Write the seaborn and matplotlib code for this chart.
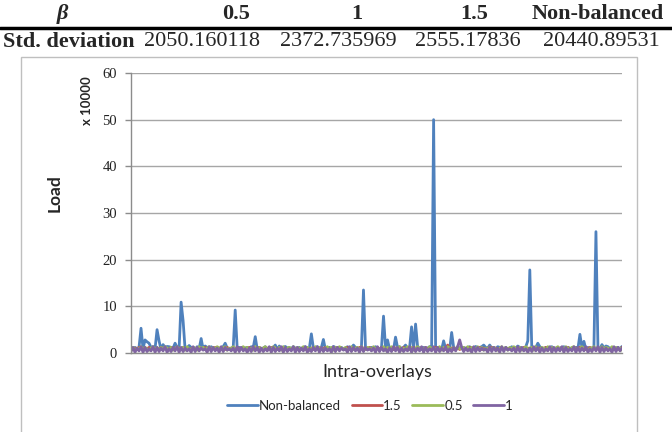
import pandas as pd
import seaborn as sns
import matplotlib.pyplot as plt
from matplotlib.lines import Line2D
from matplotlib.patches import Rectangle

sns.set_theme(style="white")
plt.rcParams['font.family'] = ['Lato', 'DejaVu Sans']

# Table above the chart
betas = ["0.5", "1", "1.5", "Non-balanced"]
std_devs = ["2050.160118", "2372.735969", "2555.17836", "20440.89531"]

# Series, drawn in this order (load in units of 10000)
series_names = ["Non-balanced", "1.5", "0.5", "1"]
colors = ["#4F81BD", "#C0504D", "#9BBB59", "#8064A2"]

# Baseline loads, one digit per point, in steps of 1500
base_nonbal = ("7685896757 8968757869 8758679576 8759685786 9768589675 7896875786 "
               "9875867957 6875968578 6976858967 5789687578 6987586795 7687596857 "
               "8697685896 7578968757 8698758679 5768759685 7869768589 6757896875 "
               "7869875867 9576875968 5786976858 9675789687 5786987586 7957687596 857869")
base_15 = ("6575867568 5767586756 8576758675 6857675867 5685767586 7568576758 "
           "6756857675 8675685767 5867568576 7586756857 6758675685 7675867568 "
           "5767586756 8576758675 6857675867 5685767586 7568576758 6756857675 "
           "8675685767 5867568576 7586756857 6758675685 7675867568 6857586756 576758")
base_05 = ("5847695864 7958486975 8469578496 5874968579 4869758947 6958479685 "
           "7496857948 6975849678 5948769584 7695864795 8486975846 9578496587 "
           "4968579486 9758947695 8479685749 6857948697 5849678594 8769584769 "
           "5864795848 6975846957 8496587496 8579486975 8947695847 7958496875 968574")
base_1 = ("2817391826 3918273916 2839182736 1928374619 2837192846 3719283617 "
          "2938172639 1827391826 3918273916 2839182736 1928374619 2837192846 "
          "3719283617 2938172639 1827391826 3918273916 2839182736 1928374619 "
          "2837192846 3719283617 2938172639 1827391826 3918273916 2839182736 192837")

# Peaks: point index -> load (x 10000)
peaks_nonbal = {5: 5.3, 7: 2.8, 8: 2.4, 9: 2.1, 13: 5.0, 14: 2.6, 16: 1.8, 18: 1.4,
                22: 2.1, 25: 10.9, 26: 6.9, 29: 1.6, 35: 3.1, 37: 1.5, 47: 2.1,
                52: 9.2, 62: 3.5, 72: 1.7, 74: 1.5, 77: 1.4, 90: 4.1, 96: 2.9,
                101: 1.4, 111: 1.7, 116: 13.5, 126: 7.9, 128: 2.8, 132: 3.4,
                137: 1.7, 140: 5.6, 142: 6.2, 143: 1.4, 151: 50.0, 156: 2.6,
                160: 4.4, 172: 1.4, 176: 1.7, 179: 1.7, 193: 1.5, 198: 2.6,
                199: 17.8, 203: 2.1, 224: 4.0, 226: 2.5, 232: 26.0, 235: 1.8,
                237: 1.5, 245: 1.4}
peaks_15 = {158: 1.7}
peaks_05 = {}
peaks_1 = {164: 2.8}


def to_values(digits, peaks):
    vals = [int(c) * 0.15 for c in digits.replace(" ", "")]
    for i, v in peaks.items():
        vals[i] = v
    return vals


all_vals = [to_values(base_nonbal, peaks_nonbal), to_values(base_15, peaks_15),
            to_values(base_05, peaks_05), to_values(base_1, peaks_1)]
n = min(len(v) for v in all_vals)

rows = []
for name, vals in zip(series_names, all_vals):
    for i, v in enumerate(vals[:n]):
        rows.append([name, i, v])
df = pd.DataFrame(rows, columns=["Series", "Point", "Load"])

fig = plt.figure(figsize=(6.72, 4.32), dpi=100)

# chart frame
fig.patches.append(Rectangle((21 / 672, -0.1), 616 / 672, 0.1 + 1 - 57 / 432,
                             transform=fig.transFigure, facecolor="none",
                             edgecolor="#bfbfbf", linewidth=1, zorder=-1))

ax = fig.add_axes([131 / 672, 1 - 353 / 432, 491 / 672, 280 / 432])
ax.set_facecolor("none")
sns.lineplot(data=df, x="Point", y="Load", hue="Series", hue_order=series_names,
             palette=colors, linewidth=2, estimator=None, legend=False, ax=ax)

ax.set_xlim(0, n - 1)
ax.set_ylim(0, 60)
ax.set_yticks(range(0, 61, 10))
ax.set_xticks([])
ax.set_xlabel("")
ax.set_ylabel("")
ax.yaxis.grid(True, color="#a6a6a6", linewidth=1)
ax.set_axisbelow(True)
for s in ["top", "right"]:
    ax.spines[s].set_visible(False)
for s in ["left", "bottom"]:
    ax.spines[s].set_color("#8c8c8c")
    ax.spines[s].set_linewidth(1)
ax.tick_params(axis="y", left=True, length=4, width=1, color="#8c8c8c", pad=6,
               labelsize=10.5, labelcolor="#222222")
for lab in ax.get_yticklabels():
    lab.set_family("Liberation Serif")

fig.text(87 / 672, 1 - 101 / 432, "x 10000", rotation=90, ha="center", va="center",
         fontsize=9.5, fontweight="bold")
fig.text(55 / 672, 1 - 193 / 432, "Load", rotation=90, ha="center", va="center",
         fontsize=12.5, fontweight="bold")
fig.text(377 / 672, 1 - 372 / 432, "Intra-overlays", ha="center", va="center",
         fontsize=13)

handles = [Line2D([0], [0], color=c, linewidth=2) for c in colors]
fig.legend(handles, series_names, loc="center", bbox_to_anchor=(370 / 672, 1 - 406 / 432),
           ncol=4, frameon=False, fontsize=9.5, handlelength=2.3, handletextpad=0.1,
           columnspacing=0.8)

# table at the top
serif = "Liberation Serif"
head_x = [236, 357, 474, 598]
num_x = [202, 338, 468, 601]
fig.text(62 / 672, 1 - 14 / 432, "\u03b2", ha="center", va="center", fontsize=16,
         family=serif, fontweight="bold", style="italic")
fig.text(3 / 672, 1 - 42 / 432, "Std. deviation", ha="left", va="center",
         fontsize=16, family=serif, fontweight="bold")
for hx, nx, b, s in zip(head_x, num_x, betas, std_devs):
    fig.text(hx / 672, 1 - 14 / 432, b, ha="center", va="center", fontsize=16,
             family=serif, fontweight="bold")
    fig.text(nx / 672, 1 - 42 / 432, s, ha="center", va="center", fontsize=16,
             family=serif)
fig.add_artist(Line2D([0, 1], [1 - 28 / 432, 1 - 28 / 432], transform=fig.transFigure,
                      color="black", linewidth=2.5))

fig.savefig("out.png", dpi=100)
